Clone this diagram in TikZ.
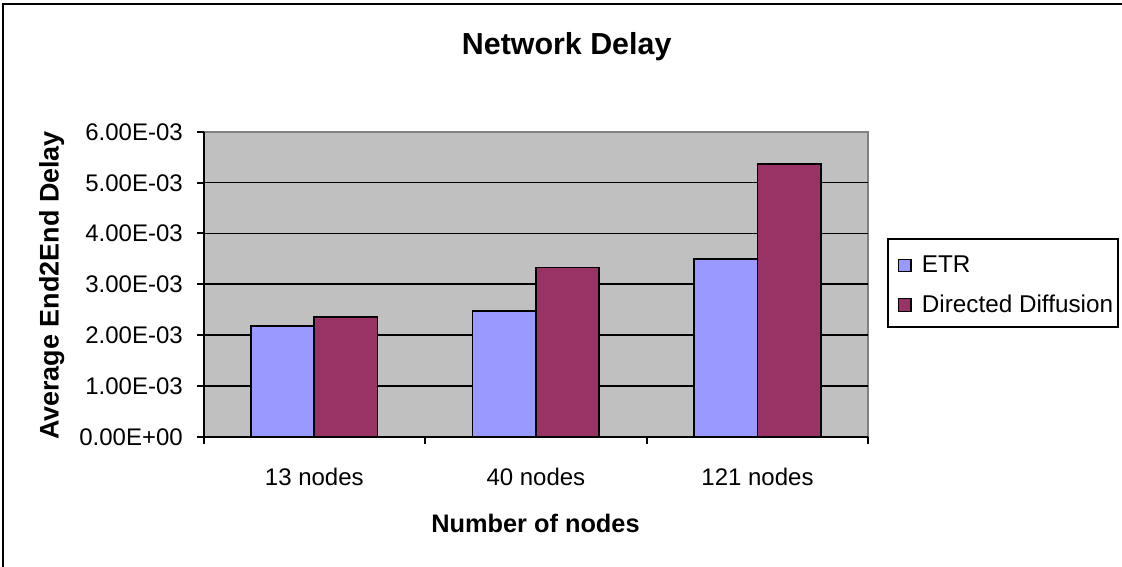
\documentclass[tikz,border=0pt]{standalone}
\usepackage{fontspec}
\setmainfont{Liberation Sans}
\definecolor{plotbg}{HTML}{C0C0C0}
\definecolor{plotedge}{HTML}{808080}
\definecolor{etrblue}{HTML}{9999FF}
\definecolor{ddplum}{HTML}{993366}
\begin{document}
\begin{tikzpicture}[x=0.75pt,y=-0.75pt,
  ticklabel/.style={font=\fontsize{18pt}{21pt}\selectfont, inner sep=0pt},
  legendlabel/.style={font=\fontsize{18.2pt}{21pt}\selectfont, inner sep=0pt, anchor=base west},
  axistitle/.style={font=\fontsize{19pt}{22pt}\selectfont\bfseries, inner sep=0pt, anchor=base},
  charttitle/.style={font=\fontsize{22.8pt}{26pt}\selectfont\bfseries, inner sep=0pt, anchor=base},
  gridline/.style={line width=1.3pt},
  axisline/.style={line width=1.5pt},
  etrbar/.style={fill=etrblue, draw=black, line width=1.3pt},
  ddbar/.style={fill=ddplum, draw=black, line width=1.3pt},
]
% page and frame
\useasboundingbox (0,0) rectangle (1122,567);
\fill[white] (0,0) rectangle (1122,567);
\draw[line width=1.5pt] (3,567) -- (3,4) -- (1122,4);

% plot area: x from 203.5 to 868.3, y from 0 (436.7) to 6e-3 (131.7)
\def\xl{203.5}
\def\xr{868.3}
\def\yb{436.7}
\def\yt{131.7}
\def\ystep{50.83}
\def\cat{221.6}
\def\bw{63.3}
\fill[plotbg] (\xl,\yt) rectangle (\xr,\yb);
\draw[plotedge, line width=1.3pt] (\xl,\yt) -- (\xr,\yt) -- (\xr,\yb);
\foreach \k in {1,...,5}
  \draw[gridline] (\xl,{\yb-\ystep*\k}) -- (\xr,{\yb-\ystep*\k});

% bars: ETR and Directed Diffusion per category (values in 1e-3 s)
\foreach \i/\etr/\dd in {0/2.185/2.356, 1/2.474/3.327, 2/3.49/5.36} {
  \pgfmathsetmacro{\c}{\xl+(\i+0.5)*\cat}
  \draw[etrbar] ({\c-\bw},\yb) rectangle (\c,{\yb-\ystep*\etr});
  \draw[ddbar] (\c,\yb) rectangle ({\c+\bw},{\yb-\ystep*\dd});
}

% axes and ticks
\draw[axisline] (\xl,\yt) -- (\xl,\yb) -- (\xr,\yb);
\foreach \k/\lab in {0/0.00E+00, 1/1.00E-03, 2/2.00E-03, 3/3.00E-03, 4/4.00E-03, 5/5.00E-03, 6/6.00E-03} {
  \draw[axisline] (197,{\yb-\ystep*\k}) -- (\xl,{\yb-\ystep*\k});
  \node[ticklabel, anchor=base east] (ytick\k) at (183,{\yb-\ystep*\k+8.5}) {\lab};
}
\foreach \j in {0,...,3}
  \draw[axisline] ({\xl+\j*\cat},\yb) -- ({\xl+\j*\cat},444);
\foreach \i/\lab in {0/13 nodes, 1/40 nodes, 2/121 nodes}
  \node[ticklabel, anchor=base] (xtick\i) at ({\xl+(\i+0.5)*\cat},485) {\lab};

% titles
\node[charttitle] (title) at (566.7,55) {Network Delay};
\node[axistitle] (xtitle) at (535.5,532.3) {Number of nodes};
\node[axistitle, rotate=90, font=\fontsize{20.2pt}{23pt}\selectfont\bfseries] (ytitle) at (58.5,285.5) {Average End2End Delay};

% legend
\draw[line width=1.3pt] (888.3,239.3) rectangle (1118.3,326.7);
\draw[fill=etrblue, draw=black, line width=1pt] (898.3,259.3) rectangle (911,271.7);
\draw[fill=ddplum, draw=black, line width=1pt] (898.3,298.3) rectangle (911,311.7);
\node[legendlabel] (legetr) at (921.7,272.7) {ETR};
\node[legendlabel] (legdd) at (921.7,312.7) {Directed Diffusion};
\end{tikzpicture}
\end{document}
